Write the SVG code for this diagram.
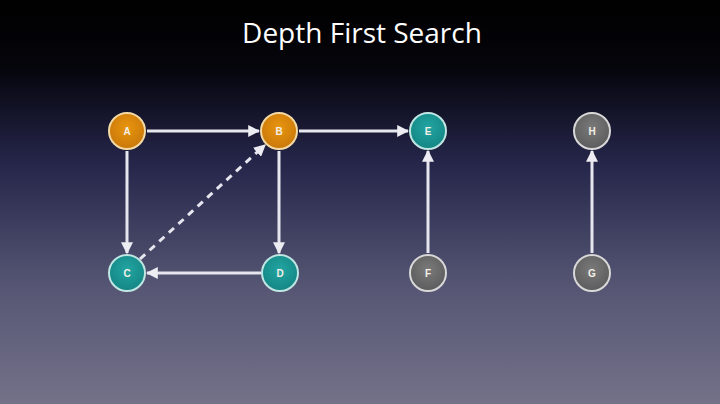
<svg xmlns="http://www.w3.org/2000/svg" width="720" height="404" viewBox="0 0 720 404">
<defs>
<linearGradient id="bg" x1="0" y1="0" x2="0" y2="1">
<stop offset="0" stop-color="#000000"/>
<stop offset="0.17" stop-color="#05050c"/>
<stop offset="0.4" stop-color="#25254a"/>
<stop offset="0.72" stop-color="#575775"/>
<stop offset="1" stop-color="#747289"/>
</linearGradient>
<radialGradient id="gOrange" cx="0.5" cy="0.4" r="0.6">
<stop offset="0" stop-color="#e8950f"/>
<stop offset="1" stop-color="#c9780a"/>
</radialGradient>
<radialGradient id="gTeal" cx="0.5" cy="0.4" r="0.6">
<stop offset="0" stop-color="#22a5a2"/>
<stop offset="1" stop-color="#148684"/>
</radialGradient>
<radialGradient id="gGrey" cx="0.5" cy="0.4" r="0.6">
<stop offset="0" stop-color="#7a7a7a"/>
<stop offset="1" stop-color="#5c5c5e"/>
</radialGradient>
<marker id="ah" viewBox="0 0 10 10" refX="9" refY="5" markerWidth="4" markerHeight="4" orient="auto" markerUnits="strokeWidth">
<path d="M0,0 L10,5 L0,10 z" fill="#ececf2"/>
</marker>
</defs>
<style>
.edge{stroke:#e6e6ee;stroke-width:3;fill:none;marker-end:url(#ah)}
.dash{stroke-dasharray:7 6}
.n circle{stroke-width:2}
.orange circle{fill:url(#gOrange);stroke:#f3d9a4}
.teal circle{fill:url(#gTeal);stroke:#bfe6e3}
.grey circle{fill:url(#gGrey);stroke:#d8d8d8}
.n text{font-family:"Liberation Sans",Arial,sans-serif;font-size:10px;font-weight:bold;fill:#f4f0e8;text-anchor:middle}
.title{font-family:"Open Sans","Liberation Sans",sans-serif;font-size:28px;fill:#ffffff;text-anchor:middle}
</style>
<rect width="720" height="404" fill="url(#bg)"/>
<text class="title" x="362" y="43">Depth First Search</text>
<g id="connectors">
<line class="edge" x1="147" y1="131" x2="259" y2="131"/>
<line class="edge" x1="127" y1="151" x2="127" y2="253"/>
<line class="edge" x1="279" y1="151" x2="279" y2="253"/>
<line class="edge" x1="261" y1="273" x2="147" y2="273"/>
<line class="edge" x1="299" y1="131" x2="408" y2="131"/>
<line class="edge" x1="428" y1="253" x2="428" y2="151"/>
<line class="edge" x1="592" y1="253" x2="592" y2="151"/>
<line class="edge dash" x1="140" y1="259" x2="265" y2="145"/>
</g>
<g id="node-A" class="n orange"><circle cx="127" cy="131" r="18"/><text x="127" y="135">A</text></g>
<g id="node-B" class="n orange"><circle cx="279" cy="131" r="18"/><text x="279" y="135">B</text></g>
<g id="node-E" class="n teal"><circle cx="428" cy="131" r="18"/><text x="428" y="135">E</text></g>
<g id="node-H" class="n grey"><circle cx="592" cy="131" r="18"/><text x="592" y="135">H</text></g>
<g id="node-C" class="n teal"><circle cx="127" cy="273" r="18"/><text x="127" y="277">C</text></g>
<g id="node-D" class="n teal"><circle cx="280" cy="273" r="18"/><text x="280" y="277">D</text></g>
<g id="node-F" class="n grey"><circle cx="428" cy="273" r="18"/><text x="428" y="277">F</text></g>
<g id="node-G" class="n grey"><circle cx="592" cy="273" r="18"/><text x="592" y="277">G</text></g>
</svg>
